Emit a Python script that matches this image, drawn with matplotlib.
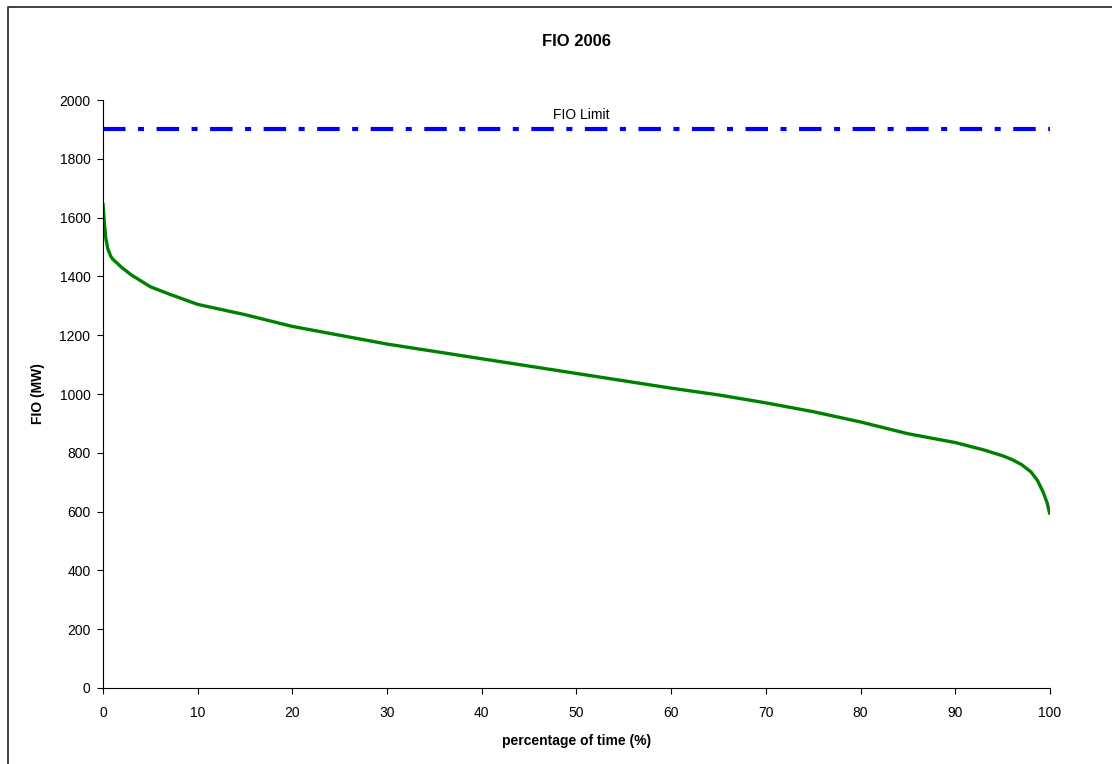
import matplotlib
matplotlib.use("Agg")
import matplotlib.pyplot as plt
from matplotlib.lines import Line2D

plt.rcParams['font.family'] = ['Liberation Sans', 'DejaVu Sans']

# duration curve
pct_time = [0, 0.15, 0.3, 0.5, 0.8, 1, 1.5, 2, 3, 4, 5, 7, 10, 15, 20, 25, 30, 35, 40,
            45, 50, 55, 60, 65, 70, 75, 80, 85, 90, 93, 95, 96, 97, 98, 98.7, 99.3, 99.7, 100]
fio_mw = [1650, 1580, 1530, 1495, 1470, 1460, 1445, 1430, 1405, 1385, 1365, 1340, 1305,
          1270, 1230, 1200, 1170, 1145, 1120, 1095, 1070, 1045, 1020, 997, 970, 940, 905,
          865, 835, 810, 790, 777, 760, 735, 705, 665, 630, 590]
fio_limit = 1900

fig = plt.figure(figsize=(11.12, 7.64), dpi=100)
ax = fig.add_axes([0.0926, 0.0995, 0.8516, 0.7695])

ax.plot(pct_time, fio_mw, color='#008000', lw=2.4, solid_capstyle='butt')
ax.plot([0, 100], [fio_limit, fio_limit], color='#0000FF', lw=3,
        dashes=(5.4, 3.0, 1.45, 3.0))
ax.text(50.5, 1950, 'FIO Limit', ha='center', va='center', fontsize=10)

ax.set_xlim(0, 100)
ax.set_ylim(0, 2000)
ax.set_xticks(range(0, 101, 10))
ax.set_yticks(range(0, 2001, 200))
ax.tick_params(labelsize=10, length=4, width=0.8, direction='out')
ax.tick_params(axis='x', pad=9)
ax.tick_params(axis='y', pad=5)
for s in ['top', 'right']:
    ax.spines[s].set_visible(False)

ax.set_xlabel('percentage of time (%)', fontsize=10, fontweight='bold', labelpad=10)
ax.set_ylabel('FIO (MW)', fontsize=10, fontweight='bold', labelpad=10)
fig.text(0.5 * (0.0926 + 0.9442), 1 - 41 / 764, 'FIO 2006', ha='center', va='center',
         fontsize=12, fontweight='bold')

# outer chart frame, only top and left edges show in the picture
fig.lines.append(Line2D([8 / 1112, 8 / 1112, 1.0], [0.0, 1 - 6.5 / 764, 1 - 6.5 / 764],
                        transform=fig.transFigure, color='#333333', lw=1.3))

fig.savefig('out.png', dpi=100)
